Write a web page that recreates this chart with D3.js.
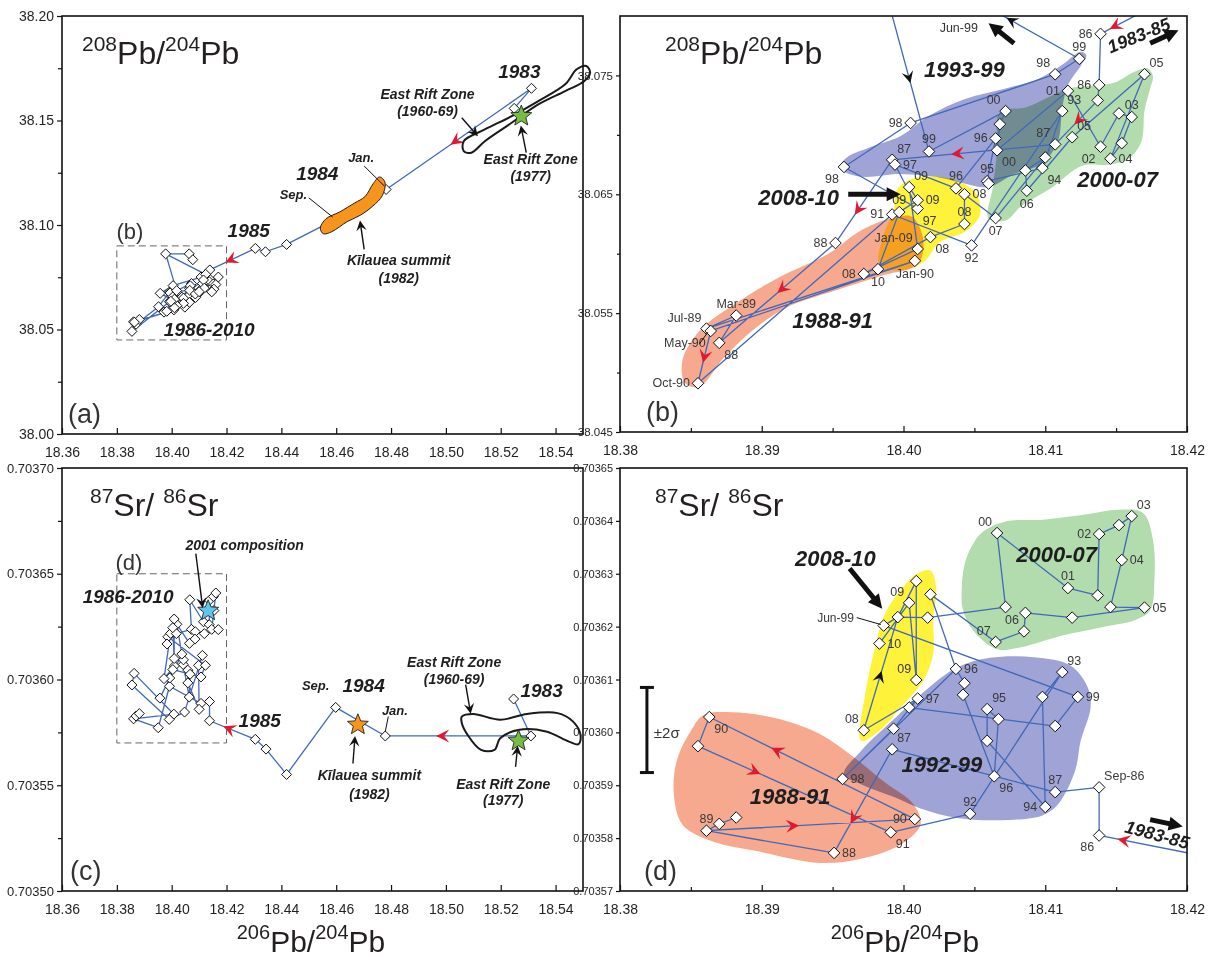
<!DOCTYPE html>
<html>
<head>
<meta charset="utf-8">
<script src="https://cdn.jsdelivr.net/npm/d3@7/dist/d3.min.js"></script>
<style>
html,body{margin:0;padding:0;background:#fff;}
svg{display:block;font-family:"Liberation Sans",Arial,Helvetica,sans-serif;}
</style>
</head>
<body>
<svg id="chart" width="1208" height="957"></svg>
<script>
// ================= DATA =================
const xTicksWide = [18.36,18.38,18.40,18.42,18.44,18.46,18.48,18.50,18.52,18.54];
const xLabelsWide = ["18.36","18.38","18.40","18.42","18.44","18.46","18.48","18.50","18.52","18.54"];
const xTicksNarrow = [18.38,18.39,18.40,18.41,18.42];
const xLabelsNarrow = ["18.38","18.39","18.40","18.41","18.42"];
const xMinorNarrow = [18.385,18.395,18.405,18.415];

const yTicksA = [38.00,38.05,38.10,38.15,38.20];
const yLabelsA = ["38.00","38.05","38.10","38.15","38.20"];
const yMinorA = [38.025,38.075,38.125,38.175];
const yTicksB = [38.045,38.055,38.065,38.075];
const yLabelsB = ["38.045","38.055","38.065","38.075"];
const yMinorB = [38.05,38.06,38.07];
const yTicksC = [0.70350,0.70355,0.70360,0.70365,0.70370];
const yLabelsC = ["0.70350","0.70355","0.70360","0.70365","0.70370"];
const yMinorC = [0.703525,0.703575,0.703625,0.703675];
const yTicksD = [0.70357,0.70358,0.70359,0.70360,0.70361,0.70362,0.70363,0.70364,0.70365];
const yLabelsD = ["0.70357","0.70358","0.70359","0.70360","0.70361","0.70362","0.70363","0.70364","0.70365"];

// 206Pb/204Pb vs 208Pb/204Pb samples: [id, 206Pb/204Pb, 208Pb/204Pb, label]
const pbPoints = [
 ["e83a",18.5249,38.1558,""],["e83b",18.5312,38.1654,""],["eJan84",18.4782,38.1170,""],
 ["eSep84",18.4595,38.1026,""],["e85a",18.4419,38.0907,""],["e85b",18.4342,38.0872,""],
 ["e85c",18.4305,38.0888,""],
 ["b86a",18.4139,38.0785,"86"],["b86b",18.4138,38.0742,"86"],["bS86",18.4137,38.0729,""],
 ["b87a",18.4107,38.0692,"87"],["b87b",18.3992,38.0679,"87"],["b88a",18.3952,38.0609,"88"],
 ["b88b",18.3870,38.0525,"88"],["bM89",18.3882,38.0548,"Mar-89"],["bJ89",18.3861,38.0537,"Jul-89"],
 ["bJ90",18.4008,38.0594,"Jan-90"],["bMy90",18.3864,38.0535,"May-90"],["bO90",18.3855,38.0491,"Oct-90"],
 ["b91",18.3992,38.0633,"91"],["b92",18.4048,38.0607,"92"],["b93",18.4112,38.0720,"93"],
 ["b94",18.4098,38.0672,"94"],["b95",18.4059,38.0661,"95"],["b95b",18.4060,38.0659,""],
 ["b96a",18.4065,38.0697,"96"],["b96b",18.4037,38.0655,"96"],["b97a",18.3994,38.0675,"97"],
 ["b97b",18.4010,38.0638,"97"],["b98a",18.3958,38.0673,"98"],["b98b",18.4005,38.0710,"98"],
 ["b98c",18.4107,38.0751,"98"],["b99a",18.4124,38.0764,"99"],
 ["bJL",18.3978,38.0862,""],["bJM",18.4064,38.0862,""],["bJR",18.4077,38.0834,""],
 ["b99b",18.4018,38.0686,"99"],["b00a",18.4072,38.0720,"00"],["bq1",18.4068,38.0709,""],
 ["b00b",18.4066,38.0687,"00"],["b01",18.4116,38.0737,"01"],["b02",18.4139,38.0690,"02"],
 ["b03a",18.4152,38.0718,""],["b03b",18.4161,38.0715,"03"],["b04a",18.4154,38.0693,""],
 ["b04b",18.4146,38.0680,"04"],["b05a",18.4170,38.0751,"05"],["b05b",18.4119,38.0698,"05"],
 ["b06",18.4087,38.0653,"06"],["bq2",18.4086,38.0670,""],["bq3",18.4100,38.0681,""],
 ["b07",18.4065,38.0630,"07"],["b08a",18.4043,38.0650,"08"],["b08b",18.4043,38.0625,"08"],
 ["b08c",18.4019,38.0614,"08"],["b08d",18.3972,38.0583,"08"],["bJ09",18.4010,38.0604,"Jan-09"],
 ["b09a",18.4004,38.0656,"09"],["b09b",18.4010,38.0645,"09"],["b09c",18.3997,38.0635,"09"],
 ["b10",18.3982,38.0587,"10"]
];
const pbLabelPos = {b86a:"l",b86b:"l",b87a:"tl",b87b:"tr",b88a:"l",b88b:"br",bM89:"t",bJ89:"tl",
 bJ90:"b",bMy90:"bl",bO90:"l",b91:"l",b92:"b",b93:"tr",b94:"br",b95:"t",b96a:"l",b96b:"t",
 b97a:"r",b97b:"br",b98a:"bl",b98b:"l",b98c:"tl",b99a:"t",b99b:"t",b00a:"tl",b00b:"br",b01:"l",
 b02:"bl",b03b:"t",b04b:"r",b05a:"tr",b05b:"tr",b06:"b",b07:"b",b08a:"r",b08b:"t",b08c:"br",
 b08d:"l",bJ09:"tl",b09a:"tr",b09b:"r",b09c:"t",b10:"b"};
const pbPaths = [
 ["e83a","e83b","eJan84","eSep84","e85a","e85b","e85c","b86a","b86b","bS86","b87a","b87b","b88a",
  "b88b","bM89","bJ89","bJ90","bMy90","bO90","b91","b92","b93","b94","b95","b96a","b96b","b97a",
  "b97b","b98a","b98b","b98c","b99a","bJL","b99b","b00a","bq1","b00b","b01","b02","b03a","b03b",
  "b04a","b04b","b05a","b05b","b06","bq2","bq3","b07","b08a","b08b","b08c","b08d","bJ09","b09a",
  "b09b","b09c","b10"],
 ["bJL","bJM","bJR"]
];

// 206Pb/204Pb vs 87Sr/86Sr samples: [id, 206Pb/204Pb, 87Sr/86Sr, label]
const srPoints = [
 ["e83a",18.5247,0.7035908,""],["e83b",18.5310,0.7035733,""],["eJan84",18.4779,0.7035733,""],
 ["eSep84",18.4598,0.7035868,""],["e85a",18.4419,0.7035551,""],["e85b",18.4344,0.7035671,""],
 ["e85c",18.4305,0.7035717,""],
 ["d86",18.4138,0.7035805,"86"],["dS86",18.4138,0.7035896,"Sep-86"],["d87a",18.4107,0.7035887,"87"],
 ["d87b",18.3992,0.7035968,"87"],["d88",18.3951,0.7035772,"88"],["d89a",18.3861,0.7035814,"89"],
 ["d89b",18.3870,0.7035827,""],["d89c",18.3882,0.7035839,""],["d90a",18.4008,0.7035836,"90"],
 ["d90b",18.3863,0.7036029,"90"],["d90c",18.3855,0.7035974,""],["d91",18.3991,0.7035811,"91"],
 ["d92",18.4047,0.7035846,"92"],["d93",18.4112,0.7036114,"93"],["dq1",18.4098,0.7036067,""],
 ["d94",18.4100,0.7035859,"94"],["dq2",18.4059,0.7035984,""],["d95",18.4059,0.7036044,"95"],
 ["dq3",18.4067,0.7036025,""],["d96b",18.4064,0.7035917,"96"],["dq4",18.4042,0.7036071,""],
 ["dq5",18.4043,0.7036093,""],["d96a",18.4037,0.7036120,"96"],["d98",18.3957,0.7035912,"98"],
 ["dq6",18.3993,0.7036007,""],["d97",18.4010,0.7036064,"97"],["dq7",18.4004,0.7036047,""],
 ["dq8",18.4107,0.7036012,""],["d99",18.4123,0.7036067,"99"],["dJ99",18.3986,0.7036202,""],
 ["dq9",18.3996,0.7036218,""],["dq10",18.4017,0.7036217,""],["dq11",18.4072,0.7036237,""],
 ["d00",18.4066,0.7036377,"00"],["d01",18.4116,0.7036273,"01"],["dq12",18.4137,0.7036259,""],
 ["d02",18.4138,0.7036375,"02"],["dq13",18.4152,0.7036392,""],["d03",18.4161,0.7036409,"03"],
 ["d04",18.4154,0.7036326,"04"],["dq14",18.4146,0.7036237,""],["d05",18.4170,0.7036236,"05"],
 ["dq15",18.4119,0.7036217,""],["dq16",18.4086,0.7036226,""],["d06",18.4085,0.7036191,"06"],
 ["d07",18.4065,0.7036171,"07"],["dq17",18.4019,0.7036261,""],["d08",18.3972,0.7036004,"08"],
 ["d09a",18.4009,0.7036286,""],["d09b",18.4004,0.7036245,"09"],["d10",18.3983,0.7036168,"10"],
 ["d09c",18.4009,0.7036099,"09"]
];
const srLabelPos = {d86:"bl",dS86:"tr",d87a:"t",d87b:"tr",d88:"r",d89a:"t",d90a:"l",d90b:"br",
 d91:"br",d92:"t",d93:"tr",d94:"l",d95:"tr",d96b:"br",d96a:"r",d98:"r",d97:"r",d99:"r",d00:"tl",
 d01:"t",d02:"l",d03:"tr",d04:"r",d05:"r",d06:"tl",d07:"tl",d08:"tl",d09b:"tl",d10:"r",d09c:"tl"};
const srPaths = [
 ["e83a","e83b","eJan84","eSep84","e85a","e85b","e85c","d86","dS86","d87a","d87b","d88","d89a",
  "d89b","d89c","d89b","d89a","d90a","d90b","d90c","d91","d92","d93","dq1","d94","dq2","d95","dq3",
  "d96b","dq4","dq5","d96a","d98","dq6","d97","dq7","dq8","d99","dJ99","dq9","dq10","dq11","d00",
  "d01","dq12","d02","dq13","d03","d04","dq14","d05","dq15","dq16","d06","d07","dq17","d96a"],
 ["d97","d08","dq9","d09a","d09c","d09b","d10"]
];

// direction arrowheads: [from, to, fraction]
const arrowsA = [["e83b","eJan84",0.54],["e85c","b86a",0.6]];
const arrowsB = [["e85c","b86a",0.95],["bS86","b87a",0.5],["b87a","b87b",0.62],["b87b","b88a",0.63],
 ["b88a","b88b",0.48],["bMy90","bO90",0.55]];
const blackArrowsB = [["bJL","b99b",0.66],["b99a","bJL",0.34]];
const arrowsC = [["e83b","eJan84",0.63],["e85c","d86",0.64]];
const arrowsD = [["e85c","d86",0.91],["d87b","d88",0.69],["d89a","d90a",0.43],["d90a","d90b",0.685],
 ["d90c","d91",0.31]];
const blackArrowsD = [["d08","dq9",0.5]];

// shaded fields
const regB_salmon = [[18.3846,38.0491],[18.3844,38.0510],[18.3856,38.0535],[18.3884,38.0560],[18.3912,38.0580],[18.3947,38.0600],[18.3969,38.0619],[18.3992,38.0630],[18.4006,38.0631],[18.4014,38.0611],[18.4010,38.0591],[18.3986,38.0582],[18.3952,38.0569],[18.3918,38.0555],[18.3893,38.0535],[18.3873,38.0512],[18.3856,38.0488]];
const regB_blue = [[18.3955,38.0672],[18.3960,38.0681],[18.3975,38.0689],[18.3998,38.0699],[18.4018,38.0716],[18.4043,38.0730],[18.4072,38.0739],[18.4095,38.0747],[18.4112,38.0759],[18.4125,38.0770],[18.4129,38.0767],[18.4125,38.0758],[18.4116,38.0742],[18.4112,38.0723],[18.4109,38.0695],[18.4098,38.0676],[18.4078,38.0667],[18.4060,38.0656],[18.4043,38.0659],[18.4026,38.0664],[18.3998,38.0667],[18.3969,38.0665]];
const regB_green = [[18.4060,38.0630],[18.4063,38.0656],[18.4066,38.0686],[18.4068,38.0719],[18.4086,38.0723],[18.4103,38.0732],[18.4116,38.0739],[18.4129,38.0741],[18.4149,38.0744],[18.4163,38.0753],[18.4172,38.0756],[18.4176,38.0749],[18.4174,38.0739],[18.4170,38.0720],[18.4168,38.0695],[18.4160,38.0681],[18.4146,38.0675],[18.4126,38.0674],[18.4105,38.0656],[18.4083,38.0640],[18.4072,38.0628]];
const regB_yellow = [[18.3995,38.0653],[18.4004,38.0662],[18.4021,38.0665],[18.4038,38.0661],[18.4051,38.0651],[18.4054,38.0633],[18.4044,38.0619],[18.4026,38.0610],[18.4014,38.0593],[18.3998,38.0586],[18.3983,38.0591],[18.3986,38.0616],[18.3993,38.0636]];
const regD_salmon = [[18.3838,0.7035883],[18.3840,0.7035946],[18.3850,0.7036003],[18.3859,0.7036033],[18.3879,0.7036038],[18.3913,0.7036025],[18.3941,0.7035997],[18.3964,0.7035955],[18.3987,0.7035905],[18.4007,0.7035864],[18.4012,0.7035826],[18.3998,0.7035788],[18.3970,0.7035761],[18.3941,0.7035753],[18.3899,0.7035774],[18.3865,0.7035794],[18.3844,0.7035826]];
const regD_blue = [[18.3958,0.7035921],[18.3970,0.7035965],[18.3992,0.7036022],[18.4018,0.7036085],[18.4038,0.7036123],[18.4061,0.7036141],[18.4092,0.7036142],[18.4118,0.7036126],[18.4130,0.7036085],[18.4132,0.7036047],[18.4125,0.7035984],[18.4121,0.7035927],[18.4109,0.7035864],[18.4098,0.7035843],[18.4069,0.7035834],[18.4038,0.7035838],[18.4012,0.7035856],[18.3995,0.7035876],[18.3970,0.7035902]];
const regD_green = [[18.4041,0.7036263],[18.4044,0.7036326],[18.4055,0.7036377],[18.4072,0.7036399],[18.4098,0.7036402],[18.4126,0.7036411],[18.4152,0.7036421],[18.4169,0.7036415],[18.4176,0.7036364],[18.4177,0.7036288],[18.4174,0.7036231],[18.4163,0.7036212],[18.4140,0.7036199],[18.4112,0.7036183],[18.4083,0.7036161],[18.4066,0.7036157],[18.4049,0.7036193],[18.4042,0.7036231]];
const regD_yellow = [[18.3970,0.7035984],[18.3973,0.7036073],[18.3980,0.7036161],[18.3987,0.7036225],[18.3998,0.7036269],[18.4010,0.7036301],[18.4019,0.7036306],[18.4023,0.7036275],[18.4021,0.7036212],[18.4021,0.7036149],[18.4014,0.7036098],[18.3998,0.7036047],[18.3983,0.7036003]];
const regA_kilauea = [[18.4542,38.0986],[18.4563,38.1030],[18.4612,38.1062],[18.4668,38.1106],[18.4705,38.1136],[18.4735,38.1198],[18.4758,38.1230],[18.4778,38.1204],[18.4768,38.1140],[18.4733,38.1090],[18.4690,38.1048],[18.4640,38.1016],[18.4584,38.0968],[18.4553,38.0958]];
const regA_erz = [[18.5065,38.1354],[18.5065,38.1401],[18.5142,38.1457],[18.5240,38.1521],[18.5337,38.1593],[18.5435,38.1673],[18.5477,38.1745],[18.5512,38.1761],[18.5526,38.1729],[18.5505,38.1689],[18.5435,38.1641],[18.5337,38.1577],[18.5240,38.1489],[18.5142,38.1401],[18.5093,38.1346]];
const regC_erz = [[18.5058,0.7035825],[18.5100,0.7035837],[18.5198,0.7035810],[18.5296,0.7035837],[18.5407,0.7035841],[18.5463,0.7035802],[18.5491,0.7035738],[18.5484,0.7035694],[18.5449,0.7035706],[18.5365,0.7035754],[18.5268,0.7035762],[18.5198,0.7035722],[18.5177,0.7035667],[18.5128,0.7035667],[18.5079,0.7035738],[18.5058,0.7035794]];

// stars: [x, y, kind]
const starsA = [[18.5275,38.1521,"erz"]];
const starsC = [[18.5265,0.7035710,"erz"],[18.4679,0.7035786,"summit"],[18.4133,0.7036325,"c2001"]];

// text annotations
const annA = [
 ["1983",18.5268,38.1737,19,1],["East Rift Zone",18.4933,38.1625,14,1],["(1960-69)",18.4933,38.1545,14,1],
 ["East Rift Zone",18.5309,38.1314,14,1],["(1977)",18.5309,38.1234,14,1],["1984",18.4531,38.1250,19,1],
 ["Jan.",18.4691,38.1322,13,1],["Sep.",18.4444,38.1146,13,1],["Kīlauea summit",18.4828,38.0832,14,1],
 ["(1982)",18.4828,38.0747,14,1],["1985",18.4281,38.0974,19,1],["(b)",18.3848,38.0970,22,0],
 ["1986-2010",18.4137,38.0500,19,1]
];
const thinArrowsA = [[18.5058,38.1513,18.5111,38.1433],[18.5293,38.1346,18.5275,38.1465],[18.4702,38.0883,18.4688,38.1010]];
const leadersA = [[18.4702,38.1282,18.4776,38.1186],[18.4500,38.1130,18.4587,38.1038]];
const annB = [
 ["1993-99",18.4043,38.0755,22,1],["2000-07",18.4151,38.0663,22,1],["2008-10",18.3926,38.0648,22,1],
 ["1988-91",18.3950,38.0544,22,1],["Jun-99",18.4039,38.0790,12.5,0]
];
const rotB = [["1983-85",18.4166,38.0784,18,-22]];
const thickB = [[18.3961,38.0650,18.3998,38.0650],[18.4078,38.0777,18.4060,38.0794],[18.4174,38.0777,18.4194,38.0788]];
const leadersB = [[18.3856,38.0524,18.3862,38.0534]];
const annC = [
 ["2001 composition",18.4266,0.7036635,14,1],["(d)",18.3844,0.7036556,22,0],["1986-2010",18.3841,0.7036392,19,1],
 ["1985",18.4321,0.7035806,19,1],["Sep.",18.4525,0.7035971,13,1],["1984",18.4700,0.7035971,19,1],
 ["Jan.",18.4814,0.7035852,13,1],["Kīlauea summit",18.4721,0.7035548,14,1],["(1982)",18.4721,0.7035460,14,1],
 ["East Rift Zone",18.5030,0.7036084,14,1],["(1960-69)",18.5030,0.7036003,14,1],["1983",18.5349,0.7035949,19,1],
 ["East Rift Zone",18.5209,0.7035508,14,1],["(1977)",18.5209,0.7035429,14,1]
];
const thinArrowsC = [[18.4088,0.7036595,18.4112,0.7036349],[18.4661,0.7035603,18.4668,0.7035722],[18.5072,0.7035976,18.5089,0.7035849],[18.5254,0.7035587,18.5261,0.7035675]];
const leadersC = [[18.4790,0.7035825,18.4779,0.7035754]];
const annD = [
 ["2008-10",18.3952,0.7036330,22,1],["2000-07",18.4108,0.7036338,22,1],["1992-99",18.4027,0.7035940,22,1],
 ["1988-91",18.3920,0.7035879,22,1],["±2σ",18.3833,0.7036000,15,0]
];
const rotD = [["1983-85",18.4179,0.7035807,18,15]];
const thickD = [[18.3962,0.7036310,18.3985,0.7036234],[18.4174,0.7035835,18.4197,0.7035822]];
const leadersD = [[18.3967,0.7036217,18.3984,0.7036204]];
const endLabelsD = [["Jun-99",18.3965,0.7036217,12]];
const errorBarD = [18.3819,0.7035924,0.7036085];

// ================= DRAWING =================
const svg = d3.select("#chart");
const defs = svg.append("defs");
const INK = "#231f20", LINE = "#4169b9", RED = "#e3172d";
const layout = {a:{l:62,r:583,t:16,b:434}, b:{l:620,r:1187,t:16,b:432},
                c:{l:62,r:583,t:468,b:891}, d:{l:620,r:1187,t:468,b:891}};
const regionColors = {salmon:"#f6a98e", blue:"#a0a3d6", green:"#b2dbae", yellow:"#fff23a"};
const starColors = {erz:"#76bd43", summit:"#f7941d", c2001:"#5fc6ee"};
const off = {l:[-8,4,"end"], r:[8,4,"start"], t:[0,-8,"middle"], b:[0,17,"middle"],
             tl:[-5,-7,"end"], tr:[5,-7,"start"], bl:[-5,16,"end"], br:[5,16,"start"]};

function starPath(R, r){ let p=""; for(let i=0;i<10;i++){ const a=-Math.PI/2+i*Math.PI/5; const rad=i%2?r:R;
  p+=(i?"L":"M")+(rad*Math.cos(a)).toFixed(2)+","+(rad*Math.sin(a)).toFixed(2);} return p+"Z"; }
function diamondPath(s){ return `M0,${-s}L${s},0L0,${s}L${-s},0Z`; }

function supText(g, x, y, parts, fs, sfs, anchor){
  const t = g.append("text").attr("x",x).attr("y",y).attr("fill",INK).attr("text-anchor",anchor||"start");
  let raised=false;
  parts.forEach(([s,sup])=>{
    const ts=t.append("tspan").text(s).attr("font-size", sup?sfs:fs);
    if(sup && !raised){ ts.attr("dy", -0.42*fs); raised=true; }
    else if(!sup && raised){ ts.attr("dy", 0.42*fs); raised=false; }
  });
  return t;
}
function chevron(g, px, py, ang, color, sc){
  g.append("path").attr("d","M3,0L-10,-6.5L-5,0L-10,6.5Z")
   .attr("transform",`translate(${px},${py}) rotate(${ang*180/Math.PI}) scale(${sc||1})`).attr("fill",color);
}
function thickArrow(g,x1,y1,x2,y2,w,hl,hw){
  const a=Math.atan2(y2-y1,x2-x1), len=Math.hypot(x2-x1,y2-y1);
  g.append("path").attr("transform",`translate(${x1},${y1}) rotate(${a*180/Math.PI})`)
   .attr("d",`M0,${-w/2}L${len-hl},${-w/2}L${len-hl},${-hw}L${len},0L${len-hl},${hw}L${len-hl},${w/2}L0,${w/2}Z`)
   .attr("fill","#111");
}

function drawPanel(cfg){
  const L = layout[cfg.key];
  const x = d3.scaleLinear().domain(cfg.xd).range([L.l, L.r]);
  const y = d3.scaleLinear().domain(cfg.yd).range([L.b, L.t]);
  const root = svg.append("g");
  const clipId = "clip-"+cfg.key;
  defs.append("clipPath").attr("id",clipId).append("rect")
    .attr("x",L.l).attr("y",L.t).attr("width",L.r-L.l).attr("height",L.b-L.t);
  const plot = root.append("g").attr("clip-path",`url(#${clipId})`);
  const byId = new Map(cfg.pts.map(p=>[p[0],p]));
  const curve = d3.line().x(d=>x(d[0])).y(d=>y(d[1])).curve(d3.curveCatmullRomClosed.alpha(0.5));

  if(cfg.regions){
    const rg = plot.append("g").style("isolation","isolate");
    cfg.regions.forEach(([pts,c])=>rg.append("path").attr("d",curve(pts))
      .attr("fill",regionColors[c]).style("mix-blend-mode","multiply"));
  }
  const outer = root.append("g");
  (cfg.filled||[]).forEach(pts=>outer.append("path").attr("d",curve(pts))
      .attr("fill","#f7941d").attr("stroke","#222").attr("stroke-width",1));
  (cfg.loops||[]).forEach(pts=>outer.append("path").attr("d",curve(pts))
      .attr("fill","none").attr("stroke","#1a1a1a").attr("stroke-width",2));

  if(cfg.box){
    const [bx0,bx1,by0,by1]=cfg.box;
    root.append("rect").attr("x",x(bx0)).attr("y",y(by1)).attr("width",x(bx1)-x(bx0)).attr("height",y(by0)-y(by1))
      .attr("fill","none").attr("stroke","#666").attr("stroke-width",1).attr("stroke-dasharray","7,4");
  }
  const lg = d3.line().x(id=>x(byId.get(id)[1])).y(id=>y(byId.get(id)[2]));
  cfg.paths.forEach(pth=>plot.append("path").attr("d",lg(pth)).attr("fill","none")
      .attr("stroke",LINE).attr("stroke-width",1.3).attr("stroke-linejoin","round"));
  const arrowAt = (list,color,sc)=>list.forEach(([f,t,fr])=>{
    const p=byId.get(f), q=byId.get(t);
    const x1=x(p[1]),y1=y(p[2]),x2=x(q[1]),y2=y(q[2]);
    chevron(plot, x1+(x2-x1)*fr, y1+(y2-y1)*fr, Math.atan2(y2-y1,x2-x1), color, sc);
  });
  arrowAt(cfg.arrows||[], RED, 1);
  arrowAt(cfg.blackArrows||[], "#111", 0.9);
  plot.selectAll("path.dia").data(cfg.pts).join("path").attr("class","dia")
    .attr("d",diamondPath(cfg.ds)).attr("transform",d=>`translate(${x(d[1])},${y(d[2])})`)
    .attr("fill","#fff").attr("stroke","#111").attr("stroke-width",1);
  (cfg.stars||[]).forEach(([sx,sy,k])=>root.append("path").attr("d",starPath(11,4.8))
     .attr("transform",`translate(${x(sx)},${y(sy)})`).attr("fill",starColors[k])
     .attr("stroke","#222").attr("stroke-width",0.9));
  if(cfg.labelPos){
    cfg.pts.filter(p=>p[3]).forEach(p=>{
      const o = off[cfg.labelPos[p[0]]||"r"];
      root.append("text").attr("x",x(p[1])+o[0]).attr("y",y(p[2])+o[1]).attr("text-anchor",o[2])
        .attr("font-size",12.5).attr("fill","#3a3a3a").text(p[3]);
    });
  }
  (cfg.leaders||[]).forEach(([a,b,c,d])=>root.append("line").attr("x1",x(a)).attr("y1",y(b)).attr("x2",x(c)).attr("y2",y(d))
     .attr("stroke","#111").attr("stroke-width",1));
  (cfg.thin||[]).forEach(([a,b,c,d])=>{
    const x1=x(a),y1=y(b),x2=x(c),y2=y(d);
    root.append("line").attr("x1",x1).attr("y1",y1).attr("x2",x2).attr("y2",y2).attr("stroke","#111").attr("stroke-width",1.4);
    chevron(root,x2,y2,Math.atan2(y2-y1,x2-x1),"#111",0.8);
  });
  (cfg.thick||[]).forEach(([a,b,c,d])=>thickArrow(root,x(a),y(b),x(c),y(d),5,14,7));
  if(cfg.err){
    const [ex,e0,e1]=cfg.err;
    root.append("line").attr("x1",x(ex)).attr("x2",x(ex)).attr("y1",y(e0)).attr("y2",y(e1)).attr("stroke","#111").attr("stroke-width",3);
    [e0,e1].forEach(v=>root.append("line").attr("x1",x(ex)-7).attr("x2",x(ex)+7).attr("y1",y(v)).attr("y2",y(v)).attr("stroke","#111").attr("stroke-width",3));
  }
  (cfg.ann||[]).forEach(([t,ax,ay,fs,bi])=>root.append("text").attr("x",x(ax)).attr("y",y(ay))
     .attr("dy","0.36em").attr("text-anchor","middle").attr("font-size",fs)
     .attr("font-weight",bi?"bold":"normal").attr("font-style",bi?"italic":"normal")
     .attr("fill",bi?"#1e1e1e":"#333").text(t));
  (cfg.rot||[]).forEach(([t,ax,ay,fs,r])=>root.append("text")
     .attr("transform",`translate(${x(ax)},${y(ay)}) rotate(${r})`).attr("dy","0.36em")
     .attr("text-anchor","middle").attr("font-size",fs).attr("font-weight","bold").attr("font-style","italic")
     .attr("fill","#1e1e1e").text(t));
  (cfg.endLabels||[]).forEach(([t,ax,ay,fs])=>root.append("text").attr("x",x(ax)).attr("y",y(ay))
     .attr("dy","0.36em").attr("text-anchor","end").attr("font-size",fs).attr("fill","#3a3a3a").text(t));

  const styleAxis = g=>{ g.select(".domain").remove(); g.attr("font-family",null).attr("font-size",null);
     g.selectAll("line").attr("stroke","#111").attr("stroke-width",1.2);
     g.selectAll("text").attr("fill",INK); };
  root.append("g").attr("transform",`translate(0,${L.b})`)
    .call(d3.axisBottom(x).tickValues(cfg.xTicks).tickFormat((d,i)=>cfg.xLabels[i]).tickSize(-6).tickPadding(13))
    .call(styleAxis).attr("font-size",14);
  if(cfg.xMinor.length) root.append("g").attr("transform",`translate(0,${L.b})`)
    .call(d3.axisBottom(x).tickValues(cfg.xMinor).tickFormat("").tickSize(-4)).call(styleAxis);
  root.append("g").attr("transform",`translate(${L.l},0)`)
    .call(d3.axisLeft(y).tickValues(cfg.yTicks).tickFormat((d,i)=>cfg.yLabels[i]).tickSize(cfg.yTs).tickPadding(3))
    .call(styleAxis).attr("font-size",cfg.yFs);
  if(cfg.yMinor.length) root.append("g").attr("transform",`translate(${L.l},0)`)
    .call(d3.axisLeft(y).tickValues(cfg.yMinor).tickFormat("").tickSize(cfg.yTs-1)).call(styleAxis);
  root.append("rect").attr("x",L.l).attr("y",L.t).attr("width",L.r-L.l).attr("height",L.b-L.t)
    .attr("fill","none").attr("stroke","#111").attr("stroke-width",1.6);
  supText(root, L.l+cfg.titleDx, L.t+48, cfg.title, 32, 21);
  root.append("text").attr("x",L.l+cfg.letterDx).attr("y",L.b-11).attr("font-size",27).attr("fill","#333").text(cfg.letter);
  return {x,y};
}

const pbTitle = [["208",1],["Pb/",0],["204",1],["Pb",0]];
const srTitle = [["87",1],["Sr/ ",0],["86",1],["Sr",0]];

drawPanel({key:"a", xd:[18.36,18.55], yd:[38.00,38.20], xTicks:xTicksWide, xLabels:xLabelsWide, xMinor:[],
  yTicks:yTicksA, yLabels:yLabelsA, yMinor:yMinorA, yFs:14, yTs:5, pts:pbPoints, paths:pbPaths, arrows:arrowsA,
  ds:5, filled:[regA_kilauea], loops:[regA_erz], box:[18.38,18.42,38.045,38.09], stars:starsA,
  ann:annA, thin:thinArrowsA, leaders:leadersA, title:pbTitle, titleDx:20, letter:"(a)", letterDx:6});
drawPanel({key:"b", xd:[18.38,18.42], yd:[38.045,38.080], xTicks:xTicksNarrow, xLabels:xLabelsNarrow, xMinor:xMinorNarrow,
  yTicks:yTicksB, yLabels:yLabelsB, yMinor:yMinorB, yFs:11.5, yTs:4, pts:pbPoints, paths:pbPaths, arrows:arrowsB,
  blackArrows:blackArrowsB, ds:5.8, labelPos:pbLabelPos,
  regions:[[regB_salmon,"salmon"],[regB_blue,"blue"],[regB_green,"green"],[regB_yellow,"yellow"]],
  ann:annB, rot:rotB, thick:thickB, leaders:leadersB, title:pbTitle, titleDx:45, letter:"(b)", letterDx:26});
drawPanel({key:"c", xd:[18.36,18.55], yd:[0.70350,0.70370], xTicks:xTicksWide, xLabels:xLabelsWide, xMinor:[],
  yTicks:yTicksC, yLabels:yLabelsC, yMinor:yMinorC, yFs:13, yTs:5, pts:srPoints, paths:srPaths, arrows:arrowsC,
  ds:5, loops:[regC_erz], box:[18.38,18.42,0.70357,0.70365], stars:starsC,
  ann:annC, thin:thinArrowsC, leaders:leadersC, title:srTitle, titleDx:28, letter:"(c)", letterDx:8});
drawPanel({key:"d", xd:[18.38,18.42], yd:[0.70357,0.70365], xTicks:xTicksNarrow, xLabels:xLabelsNarrow, xMinor:xMinorNarrow,
  yTicks:yTicksD, yLabels:yLabelsD, yMinor:[], yFs:11, yTs:4, pts:srPoints, paths:srPaths, arrows:arrowsD,
  blackArrows:blackArrowsD, ds:5.8, labelPos:srLabelPos,
  regions:[[regD_salmon,"salmon"],[regD_blue,"blue"],[regD_green,"green"],[regD_yellow,"yellow"]],
  ann:annD, rot:rotD, thick:thickD, leaders:leadersD, endLabels:endLabelsD, err:errorBarD,
  title:srTitle, titleDx:35, letter:"(d)", letterDx:24});

supText(svg, 311, 952, [["206",1],["Pb/",0],["204",1],["Pb",0]], 30, 20, "middle");
supText(svg, 905, 952, [["206",1],["Pb/",0],["204",1],["Pb",0]], 30, 20, "middle");
</script>
</body>
</html>
